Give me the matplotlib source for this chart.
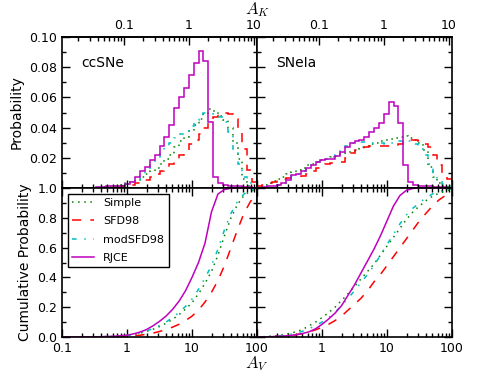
import numpy as np
import matplotlib
matplotlib.use("Agg")
import matplotlib.pyplot as plt
from matplotlib.ticker import (FuncFormatter, MultipleLocator, FormatStrFormatter,
                               FixedLocator, LogLocator, NullFormatter)

plt.rcParams["font.family"] = ["DejaVu Sans"]
plt.rcParams["mathtext.fontset"] = "cm"
plt.rcParams["lines.dashed_pattern"] = [6, 6]
plt.rcParams["lines.dashdot_pattern"] = [3, 5, 1, 5]
plt.rcParams["lines.dotted_pattern"] = [1, 3]

# A_K / A_V ratio used for the top axis
AK_OVER_AV = 0.112

# 40 log bins in A_V from 0.1 to 100, CDF sampled every 0.1 dex
bin_edges = np.logspace(-1, 2, 41)
cdf_av = 10 ** np.linspace(-1, 2, 31)

series = ["Simple", "SFD98", "modSFD98", "RJCE"]
colors = ["g", "r", "c", "m"]
styles = [":", "--", "-.", "-"]

# ccSNe histograms
cc_simple = [0, 0, 0, 0, 0, 0, 0.0001, 0.0002, 0.0004, 0.0007,
             0.001, 0.0015, 0.002, 0.003, 0.004, 0.0055, 0.007, 0.009, 0.011, 0.013,
             0.016, 0.019, 0.022, 0.027, 0.031, 0.034, 0.038, 0.042, 0.046, 0.049,
             0.052, 0.051, 0.048, 0.045, 0.040, 0.030, 0.019, 0.006, 0.0015, 0.0003]
cc_sfd = [0, 0, 0, 0, 0, 0, 0, 0.0001, 0.0002, 0.0003,
          0.0005, 0.0008, 0.001, 0.0015, 0.002, 0.003, 0.004, 0.005, 0.007, 0.009,
          0.011, 0.013, 0.016, 0.019, 0.022, 0.025, 0.029, 0.032, 0.036, 0.040,
          0.044, 0.047, 0.049, 0.0495, 0.049, 0.046, 0.040, 0.026, 0.012, 0.004]
cc_mod = [0, 0, 0, 0, 0, 0, 0.0001, 0.0002, 0.0004, 0.0007,
          0.001, 0.0012, 0.0016, 0.0025, 0.0037, 0.0055, 0.008, 0.011, 0.015, 0.019,
          0.023, 0.027, 0.030, 0.033, 0.036, 0.038, 0.041, 0.045, 0.048, 0.050,
          0.050, 0.049, 0.047, 0.044, 0.037, 0.026, 0.016, 0.007, 0.003, 0.001]
cc_rjce = [0, 0, 0, 0, 0, 0.0002, 0.0003, 0.0005, 0.0007, 0.001,
           0.001, 0.0012, 0.0015, 0.0025, 0.004, 0.0075, 0.011, 0.014, 0.0185, 0.022,
           0.0275, 0.034, 0.042, 0.053, 0.060, 0.066, 0.075, 0.083, 0.091, 0.084,
           0.044, 0.0075, 0.003, 0.0017, 0.0012, 0.001, 0.001, 0.0007, 0.0005, 0.0003]

# SNeIa histograms
ia_simple = [0.001, 0.002, 0.003, 0.0045, 0.006, 0.0075, 0.009, 0.0105, 0.012, 0.0135,
             0.015, 0.016, 0.0175, 0.0185, 0.0195, 0.0205, 0.0215, 0.0225, 0.0235, 0.0245,
             0.0255, 0.027, 0.028, 0.029, 0.030, 0.031, 0.032, 0.0325, 0.033, 0.034,
             0.0345, 0.033, 0.032, 0.030, 0.025, 0.014, 0.007, 0.003, 0.0015, 0.0005]
ia_sfd = [0.001, 0.002, 0.003, 0.004, 0.005, 0.006, 0.0065, 0.007, 0.0075, 0.008,
          0.009, 0.011, 0.013, 0.015, 0.016, 0.0165, 0.017, 0.0175, 0.020, 0.023,
          0.025, 0.026, 0.027, 0.0275, 0.0275, 0.0275, 0.028, 0.028, 0.028, 0.029,
          0.031, 0.032, 0.032, 0.031, 0.029, 0.027, 0.022, 0.015, 0.0095, 0.006]
ia_mod = [0.0002, 0.0005, 0.001, 0.0015, 0.002, 0.003, 0.005, 0.008, 0.009, 0.011,
          0.013, 0.015, 0.0175, 0.0185, 0.0195, 0.0205, 0.022, 0.025, 0.028, 0.0295,
          0.030, 0.0305, 0.0305, 0.030, 0.030, 0.0295, 0.029, 0.0295, 0.030, 0.031,
          0.032, 0.031, 0.029, 0.026, 0.022, 0.016, 0.009, 0.005, 0.0025, 0.001]
ia_rjce = [0.0002, 0.0005, 0.001, 0.0015, 0.002, 0.003, 0.005, 0.0085, 0.009, 0.011,
           0.013, 0.015, 0.0175, 0.0185, 0.0195, 0.0195, 0.021, 0.024, 0.027, 0.0295,
           0.031, 0.032, 0.034, 0.037, 0.040, 0.043, 0.049, 0.057, 0.054, 0.043,
           0.015, 0.004, 0.002, 0.0015, 0.001, 0.001, 0.0008, 0.0006, 0.0004, 0.0002]

# cumulative distributions (at cdf_av)
cc_cdf_simple = [0, 0, 0, 0, 0, 0.001, 0.002, 0.003, 0.004, 0.006, 0.01, 0.016, 0.025, 0.037, 0.052, 0.07,
                 0.092, 0.118, 0.15, 0.187, 0.23, 0.29, 0.36, 0.44, 0.55, 0.68, 0.80, 0.89, 0.95, 0.98, 0.99]
cc_cdf_sfd = [0, 0, 0, 0, 0, 0, 0.001, 0.001, 0.002, 0.003, 0.005, 0.008, 0.012, 0.018, 0.026, 0.037,
              0.05, 0.066, 0.085, 0.11, 0.14, 0.18, 0.235, 0.3, 0.38, 0.48, 0.6, 0.72, 0.83, 0.91, 0.96]
cc_cdf_mod = [0, 0, 0, 0, 0, 0.001, 0.002, 0.003, 0.004, 0.006, 0.01, 0.017, 0.027, 0.04, 0.057, 0.077,
              0.1, 0.13, 0.165, 0.205, 0.255, 0.32, 0.395, 0.48, 0.59, 0.72, 0.83, 0.91, 0.96, 0.985, 0.995]
cc_cdf_rjce = [0, 0, 0, 0, 0.001, 0.001, 0.002, 0.003, 0.005, 0.008, 0.012, 0.021, 0.033, 0.05, 0.075, 0.105,
               0.14, 0.185, 0.24, 0.31, 0.40, 0.5, 0.63, 0.84, 0.96, 0.99, 0.998, 1, 1, 1, 1]

ia_cdf_simple = [0, 0.002, 0.005, 0.009, 0.015, 0.024, 0.035, 0.05, 0.075, 0.1, 0.13, 0.163, 0.2, 0.245, 0.29,
                 0.34, 0.39, 0.44, 0.49, 0.55, 0.61, 0.67, 0.73, 0.79, 0.84, 0.88, 0.915, 0.945, 0.965, 0.98, 0.99]
ia_cdf_sfd = [0, 0.001, 0.002, 0.004, 0.006, 0.01, 0.015, 0.023, 0.035, 0.048, 0.065, 0.085, 0.11, 0.14, 0.18,
              0.22, 0.26, 0.31, 0.37, 0.42, 0.48, 0.54, 0.6, 0.66, 0.72, 0.78, 0.83, 0.88, 0.92, 0.95, 0.97]
ia_cdf_mod = [0, 0.001, 0.003, 0.006, 0.01, 0.017, 0.025, 0.038, 0.055, 0.077, 0.1, 0.13, 0.165, 0.21, 0.26,
              0.31, 0.365, 0.42, 0.48, 0.55, 0.62, 0.69, 0.76, 0.82, 0.865, 0.9, 0.935, 0.96, 0.975, 0.99, 0.995]
ia_cdf_rjce = [0, 0.001, 0.002, 0.004, 0.006, 0.01, 0.015, 0.023, 0.035, 0.055, 0.085, 0.12, 0.16, 0.21, 0.28,
               0.35, 0.43, 0.51, 0.59, 0.68, 0.78, 0.88, 0.95, 0.985, 0.997, 1, 1, 1, 1, 1, 1]

ak_ticks = [0.1, 1, 10]

panels = [
    ("ccSNe", [cc_simple, cc_sfd, cc_mod, cc_rjce], [cc_cdf_simple, cc_cdf_sfd, cc_cdf_mod, cc_cdf_rjce]),
    ("SNeIa", [ia_simple, ia_sfd, ia_mod, ia_rjce], [ia_cdf_simple, ia_cdf_sfd, ia_cdf_mod, ia_cdf_rjce]),
]

fig = plt.figure(figsize=(5.01, 3.76), dpi=100)
left, mid, right = 62 / 501, 257 / 501, 451 / 501
top, middle, bottom = 1 - 37 / 376, 0.5, 1 - 337 / 376
xlefts = [left, mid]
w = mid - left


def tick_style(ax):
    ax.tick_params(which="both", direction="in", labelsize=9, width=1)
    ax.tick_params(which="major", length=6)
    ax.tick_params(which="minor", length=3)
    for sp in ax.spines.values():
        sp.set_linewidth(1.2)


def av_fmt(hide_first):
    def f(v, pos):
        if hide_first and v < 0.5:
            return ""
        return f"{v:g}"
    return FuncFormatter(f)


for i, (name, hists, cdfs) in enumerate(panels):
    ax_h = fig.add_axes([xlefts[i], middle, w, top - middle])
    ax_c = fig.add_axes([xlefts[i], bottom, w, middle - bottom])

    for vals, col, ls in zip(hists, colors, styles):
        ax_h.stairs(vals, bin_edges, color=col, linestyle=ls, lw=1.1)
    for vals, col, ls, lab in zip(cdfs, colors, styles, series):
        ax_c.plot(cdf_av, vals, color=col, linestyle=ls, lw=1.1, label=lab)

    for ax in (ax_h, ax_c):
        ax.set_xscale("log")
        ax.set_xlim(0.1, 100)
        tick_style(ax)
        ax.tick_params(which="both", right=True)

    ax_h.set_ylim(0, 0.1)
    ax_h.yaxis.set_major_locator(MultipleLocator(0.02))
    ax_h.yaxis.set_minor_locator(MultipleLocator(0.01))
    ax_h.yaxis.set_major_formatter(FuncFormatter(lambda v, p: "" if v < 0.005 else f"{v:.2f}"))
    ax_h.tick_params(labelbottom=False, top=False)

    ax_c.set_ylim(0, 1)
    ax_c.yaxis.set_major_locator(MultipleLocator(0.2))
    ax_c.yaxis.set_minor_locator(MultipleLocator(0.1))
    ax_c.yaxis.set_major_formatter(FormatStrFormatter("%.1f"))
    ax_c.tick_params(which="both", top=True)
    ax_c.xaxis.set_major_formatter(av_fmt(i == 1))

    sec = ax_h.secondary_xaxis("top", functions=(lambda x: x * AK_OVER_AV, lambda x: x / AK_OVER_AV))
    tick_style(sec)
    sec.xaxis.set_major_locator(FixedLocator(ak_ticks))
    sec.xaxis.set_minor_locator(LogLocator(base=10, subs=np.arange(2, 10)))
    sec.xaxis.set_minor_formatter(NullFormatter())
    sec.xaxis.set_major_formatter(FuncFormatter(lambda v, p: f"{v:g}"))

    ax_h.text(0.1, 0.83, name, transform=ax_h.transAxes, fontsize=10, va="center")

    if i == 0:
        ax_h.set_ylabel("Probability", fontsize=10)
        ax_c.set_ylabel("Cumulative Probability", fontsize=10)
        ax_c.legend(loc="upper left", fontsize=8, fancybox=False, edgecolor="k",
                    framealpha=1, handlelength=2.0, labelspacing=0.75)
    else:
        ax_h.tick_params(labelleft=False)
        ax_c.tick_params(labelleft=False)

fig.text(mid, 1 - 10 / 376, r"$A_K$", ha="center", va="center", fontsize=12)
fig.text(mid, 1 - 364 / 376, r"$A_V$", ha="center", va="center", fontsize=12)

fig.savefig("out.png", dpi=100)
